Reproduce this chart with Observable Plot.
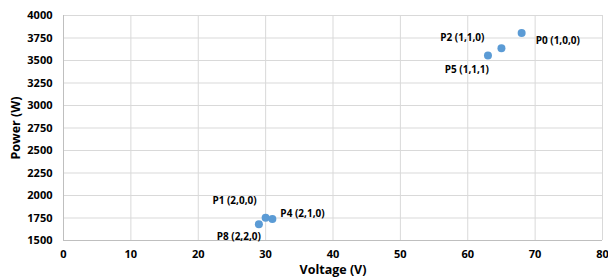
<!DOCTYPE html>
<html>
<head>
<meta charset="utf-8">
<script src="https://cdn.jsdelivr.net/npm/d3@7"></script>
<script src="https://cdn.jsdelivr.net/npm/@observablehq/plot@0.6"></script>
<style>
  html, body { margin: 0; padding: 0; background: #fff; }
  #chart { width: 608px; height: 277px; }
  svg { font-family: "Open Sans", "Liberation Sans", sans-serif; }
</style>
</head>
<body>
<div id="chart"></div>
<script>
const labels = ["P0 (1,0,0)", "P2 (1,1,0)", "P5 (1,1,1)", "P1 (2,0,0)", "P4 (2,1,0)", "P8 (2,2,0)"];
const voltage = [68, 65, 63, 30, 31, 29];
const power = [3805, 3635, 3555, 1752, 1738, 1680];
const xTicks = [0, 10, 20, 30, 40, 50, 60, 70, 80];
const yTicks = [1500, 1750, 2000, 2250, 2500, 2750, 3000, 3250, 3500, 3750, 4000];

const points = labels.map((label, i) => ({label, voltage: voltage[i], power: power[i]}));

// label placement (style, not data)
const placement = {
  "P0 (1,0,0)": {textAnchor: "start", dx: 14, dy: 8},
  "P2 (1,1,0)": {textAnchor: "end", dx: -17, dy: -11},
  "P5 (1,1,1)": {textAnchor: "end", dx: 1, dy: 14},
  "P1 (2,0,0)": {textAnchor: "end", dx: -9, dy: -17},
  "P4 (2,1,0)": {textAnchor: "start", dx: 8, dy: -5},
  "P8 (2,2,0)": {textAnchor: "end", dx: 2, dy: 12}
};

const labelMarks = points.map(p => Plot.text([p], {
  x: "voltage", y: "power", text: "label",
  ...placement[p.label],
  fontSize: 10, fontWeight: "bold", fill: "#000"
}));

const chart = Plot.plot({
  width: 608,
  height: 277,
  marginLeft: 63,
  marginRight: 6,
  marginTop: 15,
  marginBottom: 37,
  style: {fontSize: "11px", fontWeight: "bold", color: "#000", background: "#fff", overflow: "visible"},
  x: {domain: [0, 80]},
  y: {domain: [1500, 4000]},
  marks: [
    Plot.gridX(xTicks, {stroke: "#d9d9d9", strokeOpacity: 1, strokeWidth: 1}),
    Plot.gridY(yTicks, {stroke: "#d9d9d9", strokeOpacity: 1, strokeWidth: 1}),
    Plot.ruleX([0], {stroke: "#bfbfbf"}),
    Plot.ruleY([1500], {stroke: "#bfbfbf"}),
    Plot.axisX({ticks: xTicks, tickSize: 0, tickPadding: 10, fontSize: 11, fontWeight: "bold", label: "Voltage (V)", labelAnchor: "center", labelArrow: "none", labelOffset: 33, tickFormat: d => String(d)}),
    Plot.axisY({ticks: yTicks, tickSize: 0, tickPadding: 11, fontSize: 11, fontWeight: "bold", label: "Power (W)", labelAnchor: "center", labelArrow: "none", labelOffset: 52, tickFormat: d => String(d)}),
    Plot.dot(points, {x: "voltage", y: "power", r: 4, fill: "#5b9bd5", stroke: "none"}),
    ...labelMarks
  ]
});
document.getElementById("chart").appendChild(chart);
// enlarge axis titles
chart.querySelectorAll("g[aria-label='x-axis label'] text, g[aria-label='y-axis label'] text").forEach(t => {
  t.style.fontSize = "12.5px";
  t.style.fontWeight = "bold";
});
</script>
</body>
</html>
